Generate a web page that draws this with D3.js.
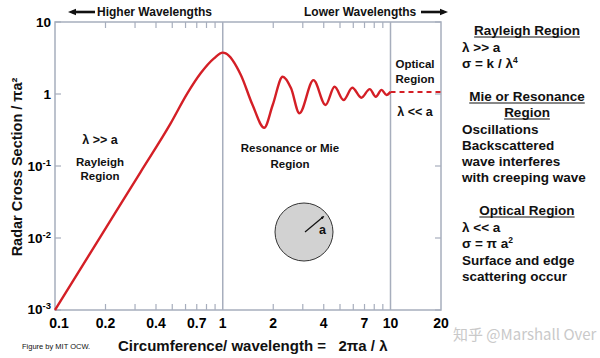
<!DOCTYPE html>
<html><head><meta charset="utf-8">
<script src="https://cdn.jsdelivr.net/npm/d3@7"></script>
<style>
html,body{margin:0;padding:0;background:#fff;}
text{font-family:"Liberation Sans",Arial,sans-serif;}
</style></head>
<body>
<svg id="c" width="600" height="358"></svg>
<script>
// ---- data ----
const xTickValues = [0.1, 0.2, 0.4, 0.7, 1, 2, 4, 7, 10, 20];
const xTickLabels = ["0.1", "0.2", "0.4", "0.7", "1", "2", "4", "7", "10", "20"];
const xMinorTicks = [0.2, 0.3, 0.4, 0.5, 0.6, 0.7, 0.8, 0.9, 2, 3, 4, 5, 6, 7, 8, 9];
const yTickValues = [10, 1, 0.1, 0.01, 0.001];
const yTickBase = ["10", "1", "10", "10", "10"];
const yTickExp = ["", "", "-1", "-2", "-3"];
const regionLines = [1, 10];
const curveX = [0.1, 0.186, 0.323, 0.488, 0.615, 0.738, 0.887, 1.0, 1.042, 1.282, 1.506, 1.767, 1.985, 2.277, 2.554, 2.864, 3.475, 4.10, 4.64, 5.25, 5.92, 6.70, 7.52, 8.17, 8.84, 9.46, 10];
const curveY = [0.001, 0.0103, 0.0818, 0.387, 1.02, 1.94, 3.13, 3.75, 3.67, 1.84, 0.703, 0.340, 0.703, 1.74, 1.20, 0.54, 1.56, 0.703, 1.26, 0.825, 1.22, 0.889, 1.17, 0.917, 1.14, 0.969, 1.07];
const opticalX = [10, 20];
const opticalY = [1.07, 1.07];

// ---- layout ----
const svg = d3.select("#c");
const L = 55, R = 441, T = 22, B = 310;
const x = d3.scaleLog().domain([0.1, 20]).range([L, R]);
const y = d3.scaleLog().domain([0.001, 10]).range([B, T]);
const axisCol = "#a7aebd";
const red = "#d41f26";

svg.append("rect").attr("x", L).attr("y", T).attr("width", R - L).attr("height", B - T)
  .attr("fill", "none").attr("stroke", axisCol).attr("stroke-width", 1.5);

svg.selectAll(".rl").data(regionLines).enter().append("line")
  .attr("x1", d => x(d)).attr("x2", d => x(d)).attr("y1", T).attr("y2", B)
  .attr("stroke", axisCol).attr("stroke-width", 1.5);

const tl = 6;
svg.selectAll(".mtb").data(xMinorTicks).enter().append("line")
  .attr("x1", d => x(d)).attr("x2", d => x(d)).attr("y1", B).attr("y2", B - tl)
  .attr("stroke", axisCol).attr("stroke-width", 1.2);
svg.selectAll(".mtt").data(xMinorTicks).enter().append("line")
  .attr("x1", d => x(d)).attr("x2", d => x(d)).attr("y1", T).attr("y2", T + tl)
  .attr("stroke", axisCol).attr("stroke-width", 1.2);
svg.selectAll(".ytl").data(yTickValues).enter().append("line")
  .attr("x1", L).attr("x2", L + tl).attr("y1", d => y(d)).attr("y2", d => y(d))
  .attr("stroke", axisCol).attr("stroke-width", 1.2);
svg.selectAll(".ytr").data(yTickValues).enter().append("line")
  .attr("x1", R).attr("x2", R - tl).attr("y1", d => y(d)).attr("y2", d => y(d))
  .attr("stroke", axisCol).attr("stroke-width", 1.2);

svg.selectAll(".xl").data(xTickValues).enter().append("text")
  .attr("x", (d, i) => x(d) + (i === 0 ? 4 : 0)).attr("y", 328)
  .attr("text-anchor", "middle").attr("font-size", 14).attr("font-weight", "bold")
  .text((d, i) => xTickLabels[i]);

const yl = svg.selectAll(".yl").data(yTickValues).enter().append("text")
  .attr("x", 51).attr("y", (d, i) => y(d) + 5 + (i === 4 ? -1 : 0))
  .attr("text-anchor", "end").attr("font-size", 13.5).attr("font-weight", "bold");
yl.append("tspan").text((d, i) => yTickBase[i]);
yl.append("tspan").attr("font-size", 9.5).attr("dy", -5).text((d, i) => yTickExp[i]);

const line = d3.line().x(d => x(d[0])).y(d => y(d[1])).curve(d3.curveMonotoneX);
svg.append("path").datum(curveX.map((v, i) => [v, curveY[i]]))
  .attr("d", line).attr("fill", "none").attr("stroke", red).attr("stroke-width", 2.4)
  .attr("stroke-linejoin", "round");
svg.append("path").datum(opticalX.map((v, i) => [v, opticalY[i]]))
  .attr("d", d3.line().x(d => x(d[0])).y(d => y(d[1])))
  .attr("fill", "none").attr("stroke", red).attr("stroke-width", 2).attr("stroke-dasharray", "5,4");

function txt(s, px, py, opts = {}) {
  const t = svg.append("text").attr("x", px).attr("y", py)
    .attr("font-size", opts.size || 12).attr("font-weight", opts.weight || "bold")
    .attr("text-anchor", opts.anchor || "start").attr("fill", opts.fill || "#111");
  if (opts.family) t.style("font-family", opts.family);
  t.text(s);
  return t;
}

const defs = svg.append("defs");
defs.append("marker").attr("id", "ah").attr("viewBox", "0 0 10 10").attr("refX", 5).attr("refY", 5)
  .attr("markerWidth", 3.2).attr("markerHeight", 3.2).attr("orient", "auto")
  .append("path").attr("d", "M0,1 L10,5 L0,9 Z").attr("fill", "#111");
svg.append("line").attr("x1", 95).attr("x2", 72).attr("y1", 12).attr("y2", 12)
  .attr("stroke", "#111").attr("stroke-width", 2.6).attr("marker-end", "url(#ah)");
txt("Higher Wavelengths", 97, 16, {size: 12});
txt("Lower Wavelengths", 304, 16, {size: 12});
svg.append("line").attr("x1", 421).attr("x2", 444).attr("y1", 12).attr("y2", 12)
  .attr("stroke", "#111").attr("stroke-width", 2.6).attr("marker-end", "url(#ah)");

txt("λ >> a", 100, 144, {size: 12.5, anchor: "middle"});
txt("Rayleigh", 100, 166, {size: 11.5, anchor: "middle"});
txt("Region", 100, 180, {size: 11.5, anchor: "middle"});
txt("Resonance or Mie", 290, 152, {size: 11.5, anchor: "middle"});
txt("Region", 290, 168, {size: 11.5, anchor: "middle"});
txt("Optical", 415, 68, {size: 11.5, anchor: "middle"});
txt("Region", 415, 83, {size: 11.5, anchor: "middle"});
txt("λ << a", 415, 116, {size: 12.5, anchor: "middle"});

svg.append("circle").attr("cx", 304).attr("cy", 232).attr("r", 29)
  .attr("fill", "#d2d2d2").attr("stroke", "#333").attr("stroke-width", 1);
svg.append("line").attr("x1", 305).attr("y1", 232).attr("x2", 323).attr("y2", 217)
  .attr("stroke", "#111").attr("stroke-width", 1.2).attr("marker-end", "url(#ah)");
txt("a", 319, 234, {size: 12.5});

function ul(s, cx, py) {
  const t = txt(s, cx, py, {size: 13.5, anchor: "middle"});
  const w = t.node().getComputedTextLength();
  svg.append("line").attr("x1", cx - w / 2).attr("x2", cx + w / 2).attr("y1", py + 2).attr("y2", py + 2)
    .attr("stroke", "#111").attr("stroke-width", 1);
}
ul("Rayleigh Region", 527, 35);
txt("λ >> a", 462, 52, {size: 13.5});
const s1 = txt("σ = k / λ", 462, 68, {size: 13.5});
s1.append("tspan").attr("font-size", 8.5).attr("dy", -5).text("4");
ul("Mie or Resonance", 527, 101);
ul("Region", 527, 117);
txt("Oscillations", 462, 134, {size: 13.5});
txt("Backscattered", 462, 150, {size: 13.5});
txt("wave interferes", 462, 166, {size: 13.5});
txt("with creeping wave", 462, 182, {size: 13.5});
ul("Optical Region", 527, 215);
txt("λ << a", 462, 232, {size: 13.5});
const s2 = txt("σ = π a", 462, 248, {size: 13.5});
s2.append("tspan").attr("font-size", 8.5).attr("dy", -5).text("2");
txt("Surface and edge", 462, 265, {size: 13.5});
txt("scattering occur", 462, 281, {size: 13.5});

txt("Radar Cross Section / πa²", 0, 0, {size: 14.5, anchor: "middle"})
  .attr("transform", "translate(22,167) rotate(-90)");
txt("Circumference/ wavelength =\u00a0\u00a0 2πa / λ", 118, 351, {size: 15});
txt("Figure by MIT OCW.", 22, 349, {size: 7.5, weight: "normal"});

txt("知乎 @Marshall Over", 453, 340, {size: 15, weight: "normal", fill: "#c9c9c9",
  family: "'Noto Sans CJK SC', 'Liberation Sans', sans-serif"});
</script>
</body></html>
